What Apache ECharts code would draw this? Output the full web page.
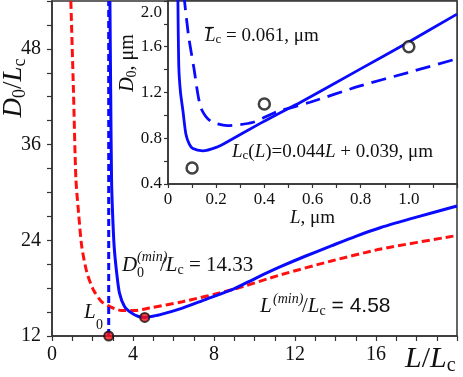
<!DOCTYPE html>
<html>
<head>
<meta charset="utf-8">
<script src="https://cdn.jsdelivr.net/npm/echarts@6/dist/echarts.min.js"></script>
<style>
  html, body { margin: 0; padding: 0; background: #fff; }
  #chart { width: 463px; height: 377px; }
</style>
</head>
<body>
<div id="chart"></div>
<script>
// main panel: D0/Lc against L/Lc
const blueMain = [
  [2.86, 54], [2.90, 42], [2.94, 31.7], [2.99, 27.5], [3.07, 23.2], [3.19, 20.0],
  [3.33, 17.4], [3.58, 15.7], [3.92, 14.9], [4.27, 14.45], [4.58, 14.33], [4.8, 14.4],
  [5.3, 14.65], [6.44, 15.5], [7.6, 16.6], [8.89, 17.8], [10.1, 19.3], [11.34, 20.75],
  [12.5, 22.0], [13.79, 23.3], [15.0, 24.5], [16.24, 25.6], [18.0, 26.9], [20.0, 28.3]
];
const redMain = [
  [0.93, 54], [1.06, 42.7], [1.18, 31.7], [1.31, 27.5], [1.47, 23.2], [1.72, 20.0],
  [2.04, 17.8], [2.45, 16.3], [2.84, 15.7], [3.43, 15.2], [4.07, 15.2], [4.8, 15.5],
  [6.44, 16.3], [8.89, 17.8], [11.34, 19.7], [13.79, 21.4], [16.24, 22.9], [20.0, 24.6]
];
const l0Line = [[2.8, 12], [2.8, 54]];
const mainDots = [[2.8, 12], [4.58, 14.33]];
const mainXLabels = [0, 4, 8, 12, 16];
const mainYLabels = [12, 24, 36, 48];

// inset: D0 against L, µm
const insetSolid = [
  [0.041, 2.05], [0.045, 1.42], [0.052, 1.2], [0.062, 1.04], [0.074, 0.84], [0.088, 0.75],
  [0.103, 0.71], [0.144, 0.69], [0.2, 0.72], [0.247, 0.77], [0.383, 0.93], [0.49, 1.05],
  [0.547, 1.11], [0.794, 1.40], [0.998, 1.64], [1.2, 1.885]
];
const insetDashed = [
  [0.066, 2.05], [0.085, 1.7], [0.107, 1.42], [0.136, 1.07], [0.177, 0.95], [0.247, 0.91],
  [0.354, 0.94], [0.45, 1.03], [0.59, 1.115], [0.794, 1.255], [0.998, 1.375], [1.2, 1.495]
];
const insetExp = [[0.1, 0.54], [0.4, 1.1], [1.0, 1.6]];

const SERIF = '"Liberation Serif", "Times New Roman", serif';
const SANS = '"Liberation Sans", Arial, sans-serif';
const BLUE = '#0a0aff';
const RED = '#ff1010';
const INK = '#111';

const axisBase = {
  axisLine: { lineStyle: { color: '#333', width: 1.5 } },
  axisTick: { length: 5, lineStyle: { color: '#333', width: 1.2 } },
  splitLine: { show: false },
};

function t(x, y, text, fs, opts) {
  opts = opts || {};
  return {
    type: 'text', x, y, rotation: opts.rot || 0, z: 10,
    style: Object.assign({
      text, fill: INK, fontFamily: SERIF, fontSize: fs,
      fontStyle: opts.italic ? 'italic' : 'normal',
      align: opts.align || 'left', verticalAlign: 'middle',
    }, opts.rich ? { rich: opts.rich } : {}),
  };
}

function richSet(fs, sub, shift) {
  return {
    i: { fontFamily: SERIF, fontSize: fs, fontStyle: 'italic', color: INK },
    n: { fontFamily: SERIF, fontSize: fs, color: INK },
    s: { fontFamily: SANS, fontSize: fs, color: INK },
    sub: { fontFamily: SERIF, fontSize: sub, color: INK, padding: [shift * 2, 0, 0, 0] },
  };
}

const chart = echarts.init(document.getElementById('chart'));

chart.setOption({
  animation: false,
  backgroundColor: '#fff',
  grid: [
    { left: 52, top: 1, width: 405, height: 335, show: true, borderColor: '#333', borderWidth: 1.5 },
    { left: 168, top: 1, width: 289, height: 183, show: true, borderColor: '#333', borderWidth: 1.5, backgroundColor: '#fff' },
  ],
  xAxis: [
    Object.assign({}, axisBase, {
      gridIndex: 0, type: 'value', min: 0, max: 20, interval: 1,
      axisLabel: {
        formatter: v => mainXLabels.includes(v) ? String(v) : '',
        fontFamily: SERIF, fontSize: 20, color: INK, margin: 9,
      },
    }),
    Object.assign({}, axisBase, {
      gridIndex: 1, type: 'value', min: 0, max: 1.2, interval: 0.1,
      axisTick: { length: 4, lineStyle: { color: '#333', width: 1.2 } },
      axisLabel: {
        formatter: v => {
          const k = Math.round(v * 10);
          if (k % 2 || k > 10) return '';
          return k === 0 ? '0' : (k / 10).toFixed(1);
        },
        fontFamily: SERIF, fontSize: 17, color: INK, margin: 7,
      },
      name: '{i|L}{n|, μm}', nameLocation: 'middle', nameGap: 18,
      nameTextStyle: { rich: richSet(19, 13, 0) },
    }),
  ],
  yAxis: [
    Object.assign({}, axisBase, {
      gridIndex: 0, type: 'value', min: 12, max: 54, interval: 3,
      axisLabel: {
        formatter: v => mainYLabels.includes(v) ? String(v) : '',
        fontFamily: SERIF, fontSize: 20, color: INK, margin: 11,
      },
    }),
    Object.assign({}, axisBase, {
      gridIndex: 1, type: 'value', min: 0.4, max: 2.0, interval: 0.2,
      axisTick: { length: 4, lineStyle: { color: '#333', width: 1.2 } },
      axisLabel: {
        formatter: v => {
          const k = Math.round(v * 10);
          if (k % 4) return '';
          return k === 20 ? '{top|2.0}' : (k / 10).toFixed(1);
        },
        fontFamily: SERIF, fontSize: 17, color: INK, margin: 6,
        rich: { top: { fontFamily: SERIF, fontSize: 17, color: INK, padding: [24, 0, 0, 0] } },
      },
    }),
  ],
  series: [
    {
      type: 'line', xAxisIndex: 0, yAxisIndex: 0, data: redMain, showSymbol: false,
      smooth: 0.25,
      lineStyle: { color: RED, width: 3, type: [8, 4] },
    },
    {
      type: 'line', xAxisIndex: 0, yAxisIndex: 0, data: l0Line, showSymbol: false,
      lineStyle: { color: BLUE, width: 3, type: [7, 4] },
    },
    {
      type: 'line', xAxisIndex: 0, yAxisIndex: 0, data: blueMain, showSymbol: false,
      smooth: 0.25,
      lineStyle: { color: BLUE, width: 3 },
    },
    {
      type: 'scatter', xAxisIndex: 0, yAxisIndex: 0, data: mainDots, clip: false,
      symbol: 'circle', symbolSize: 9, z: 5,
      itemStyle: { color: RED, borderColor: '#111', borderWidth: 2 },
    },
    {
      type: 'line', xAxisIndex: 1, yAxisIndex: 1, data: insetDashed, showSymbol: false,
      smooth: 0.25,
      lineStyle: { color: BLUE, width: 2.8, type: [15, 8] },
    },
    {
      type: 'line', xAxisIndex: 1, yAxisIndex: 1, data: insetSolid, showSymbol: false,
      smooth: 0.25,
      lineStyle: { color: BLUE, width: 2.8 },
    },
    {
      type: 'scatter', xAxisIndex: 1, yAxisIndex: 1, data: insetExp,
      symbol: 'circle', symbolSize: 11, z: 5,
      itemStyle: { color: '#fff', borderColor: '#111', borderWidth: 2.5 },
    },
  ],
  graphic: [
    // axis titles of the main panel
    t(14, 88, '{i|D}{sub|0}{n|/}{i|L}{sub|c}', 27, { rot: Math.PI / 2, align: 'center', rich: richSet(27, 18, 6) }),
    t(405, 359, '{i|L}{n|/}{i|L}{sub|c}', 30, { rich: richSet(30, 20, 7) }),
    // inset y title
    t(128, 63, '{i|D}{sub|0}{n|, μm}', 20, { rot: Math.PI / 2, align: 'center', rich: richSet(20, 14, 4) }),
    // D0(min)/Lc = 14.33
    t(122, 265, 'D', 21, { italic: true }),
    t(137, 257, '(min)', 14, { italic: true }),
    t(137, 273, '0', 14),
    t(160, 265, '{n|/}{i|L}{sub|c}{n| = 14.33}', 21, { rich: richSet(21, 14, 5) }),
    // L0
    t(84, 312, 'L', 21, { italic: true }),
    t(96, 325, '0', 14),
    // L(min)/Lc = 4.58
    t(260, 306, 'L', 21, { italic: true }),
    t(273, 299, '(min)', 14, { italic: true }),
    t(302, 306, '{n|/}{i|L}{sub|c}{s| = 4.58}', 21, { rich: richSet(21, 14, 5) }),
    // inset notes
    t(205, 36, '{i|L}{sub|c}{n| = 0.061, μm}', 19, { rich: richSet(19, 13, 4) }),
    { type: 'line', z: 10, shape: { x1: 205, y1: 27.5, x2: 214, y2: 27.5 }, style: { stroke: INK, lineWidth: 1.2 } },
    t(232, 152, '{i|L}{sub|c}{n|(}{i|L}{n|)=0.044}{i|L}{n| + 0.039, μm}', 19, { rich: richSet(19, 13, 4) }),
  ],
});
</script>
</body>
</html>
